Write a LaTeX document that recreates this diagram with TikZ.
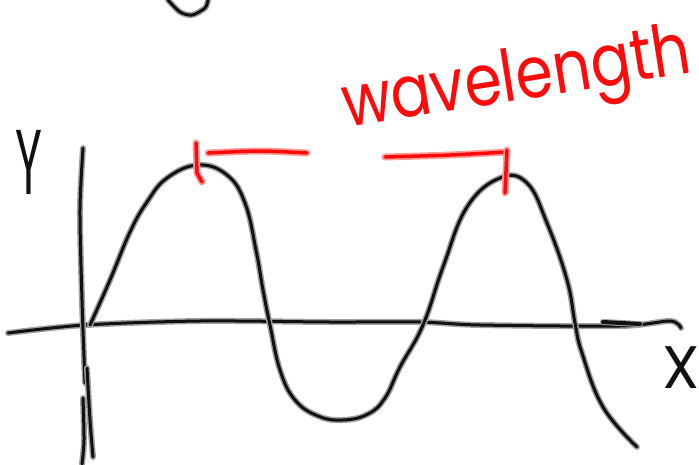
\documentclass[tikz,border=0pt]{standalone}
\usepackage{fontspec}
\setmainfont{Poppins}
\usetikzlibrary{positioning}
\definecolor{ink}{HTML}{111111}
\definecolor{inkred}{HTML}{FF0A0A}
\tikzset{
  pen/.style={draw=ink,line width=3pt,line cap=round,line join=round,
    preaction={draw=ink!40,line width=6pt,line cap=round,line join=round}},
  redpen/.style={draw=inkred,line width=3.5pt,line cap=round,line join=round,
    preaction={draw=inkred!40,line width=7pt,line cap=round,line join=round}},
  scrawl/.style={inner sep=0pt,font=\fontsize{60}{60}\selectfont}}

\begin{document}
\begin{tikzpicture}[x=1pt,y=-1pt]
\useasboundingbox (0,0) rectangle (699,464);
% cut-off stroke at the top
\draw[pen] plot[smooth] coordinates{(168,0)(180,12)(192,15)(205,8)(208,0)};
% axes
\draw[pen] plot[smooth] coordinates{(8,333)(85,325)(200,321)(330,322)(420,322)(480,325)(620,326)(670,321)(681,328)};
\draw[pen,line width=4pt] (603,322)--(640,324);
\draw[pen] plot[smooth] coordinates{(83,148)(80,210)(82,300)(85,383)};
\draw[pen] plot[smooth] coordinates{(83,398)(84,440)(82,464)};
\draw[pen] plot[smooth] coordinates{(87,368)(90,420)(93,457)};
\node[scrawl,font=\fontsize{92}{92}\selectfont,text=ink,xscale=.5] (ylbl) at (29,162) {Y};
\node[scrawl,text=ink] (xlbl) at (681,368) {X};
% wave
\draw[pen] plot[smooth,tension=.7] coordinates{(90,325)(110,280)(130,232)(147,202)(167,178)(198,165)(227,175)(245,203)(256,250)(263,290)(270,325)(280,370)(295,400)(318,416)(343,420)(368,414)(385,398)(400,367)(423,325)(443,267)(467,207)(500,178)(527,183)(547,223)(567,280)(575,323)(582,353)(603,407)(637,447)};
\coordinate (peakA) at (198,165);\coordinate (peakB) at (505,178);
% wavelength marker
\draw[redpen] (peakA)++(-2,-22)--++(1,30)--++(5,9);
\draw[redpen] plot[smooth] coordinates{(208,153)(260,151)(307,153)};
\draw[redpen] plot[smooth] coordinates{(385,157)(450,155)(507,152)};
\draw[redpen] (peakB)++(2,-28)--++(-2,43);
\node[scrawl,text=inkred,rotate=9,yscale=1.2,anchor=base] (wavelbl) at (520,100) {wavelength};
\end{tikzpicture}
\end{document}
